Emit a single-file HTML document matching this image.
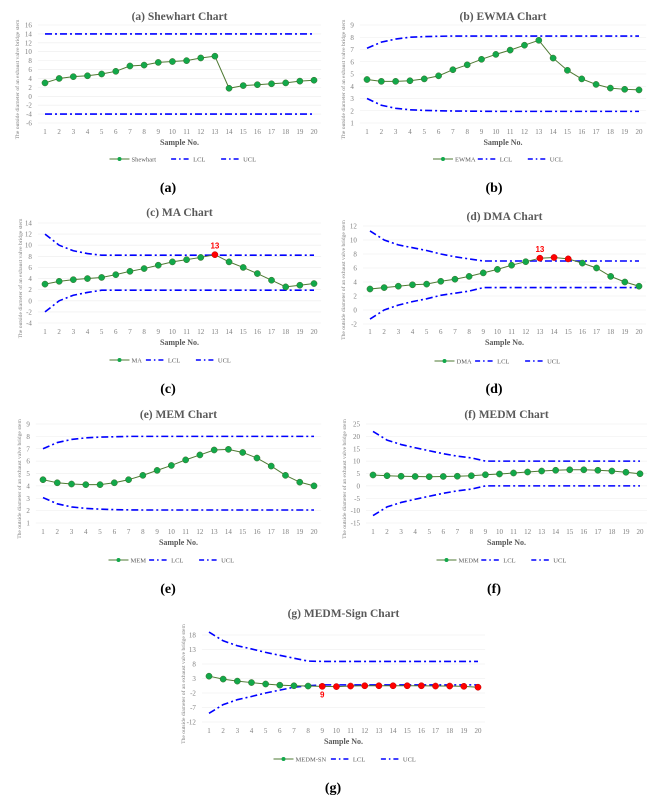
<!DOCTYPE html>
<html><head><meta charset="utf-8">
<style>
body{margin:0;background:#fff;width:669px;height:799px;overflow:hidden;font-family:"Liberation Serif",serif}
svg{position:absolute;left:0;top:0}
</style></head><body>
<svg id="fig" width="669" height="799" viewBox="0 0 669 799" xmlns="http://www.w3.org/2000/svg"></svg>
<script>
const categories=[1,2,3,4,5,6,7,8,9,10,11,12,13,14,15,16,17,18,19,20];
const shewhartVals=[3,4,4.4,4.6,5,5.6,6.8,7,7.6,7.8,8,8.6,9,1.8,2.4,2.6,2.8,3,3.4,3.6];
const shewhartLCL=[-4,-4,-4,-4,-4,-4,-4,-4,-4,-4,-4,-4,-4,-4,-4,-4,-4,-4,-4,-4];
const shewhartUCL=[14,14,14,14,14,14,14,14,14,14,14,14,14,14,14,14,14,14,14,14];
const shewhartTicks=[16,14,12,10,8,6,4,2,0,-2,-4,-6];
const ewmaVals=[4.55,4.4,4.4,4.45,4.6,4.85,5.35,5.75,6.2,6.6,6.95,7.35,7.75,6.3,5.3,4.6,4.15,3.85,3.75,3.7];
const ewmaUCL=[7.1,7.6,7.85,8,8.05,8.08,8.1,8.1,8.1,8.1,8.1,8.1,8.1,8.1,8.1,8.1,8.1,8.1,8.1,8.1];
const ewmaLCL=[3,2.45,2.2,2.08,2.03,2,1.98,1.97,1.96,1.95,1.95,1.95,1.95,1.95,1.95,1.95,1.95,1.95,1.95,1.95];
const ewmaTicks=[9,8,7,6,5,4,3,2,1];
const maVals=[3,3.5,3.8,4,4.2,4.7,5.3,5.8,6.4,7,7.4,7.8,8.3,7,6,4.9,3.7,2.5,2.8,3.1];
const maUCL=[12,10,9,8.5,8.2,8.2,8.2,8.2,8.2,8.2,8.2,8.2,8.2,8.2,8.2,8.2,8.2,8.2,8.2,8.2];
const maLCL=[-2,0,1,1.5,1.9,1.9,1.9,1.9,1.9,1.9,1.9,1.9,1.9,1.9,1.9,1.9,1.9,1.9,1.9,1.9];
const maTicks=[14,12,10,8,6,4,2,0,-2,-4];
const dmaVals=[3,3.2,3.4,3.6,3.7,4.1,4.4,4.8,5.3,5.8,6.4,6.9,7.4,7.5,7.3,6.7,6,4.8,4,3.4];
const dmaUCL=[11.3,10,9.3,8.9,8.5,8,7.6,7.3,7,7,7,7,7,7,7,7,7,7,7,7];
const dmaLCL=[-1.3,0,0.7,1.2,1.6,2.1,2.4,2.7,3.2,3.2,3.2,3.2,3.2,3.2,3.2,3.2,3.2,3.2,3.2,3.2];
const dmaTicks=[12,10,8,6,4,2,0,-2];
const memVals=[4.5,4.25,4.15,4.1,4.1,4.25,4.5,4.85,5.25,5.65,6.1,6.5,6.9,6.95,6.7,6.25,5.6,4.85,4.3,4.0];
const memUCL=[7,7.5,7.75,7.88,7.94,7.97,8,8,8,8,8,8,8,8,8,8,8,8,8,8];
const memLCL=[3.05,2.55,2.3,2.18,2.12,2.08,2.06,2.05,2.05,2.05,2.05,2.05,2.05,2.05,2.05,2.05,2.05,2.05,2.05,2.05];
const memTicks=[9,8,7,6,5,4,3,2,1];
const medmVals=[4.4,4.1,3.9,3.8,3.7,3.8,3.9,4.1,4.5,4.8,5.2,5.6,6,6.3,6.5,6.5,6.3,6,5.5,4.9];
const medmUCL=[22,18.5,16.7,15.4,14.2,13,12,11.3,10,10,10,10,10,10,10,10,10,10,10,10];
const medmLCL=[-12,-8.5,-6.7,-5.4,-4.2,-3,-2,-1.3,0,0,0,0,0,0,0,0,0,0,0,0];
const medmTicks=[25,20,15,10,5,0,-5,-10,-15];
const snVals=[3.8,2.8,2.1,1.6,1.1,0.7,0.5,0.4,0.3,0.2,0.4,0.5,0.5,0.5,0.5,0.5,0.4,0.4,0.3,0];
const snUCL=[19,16,14.3,13.2,12,11,10,9,8.9,8.9,8.9,8.9,8.9,8.9,8.9,8.9,8.9,8.9,8.9,8.9];
const snLCL=[-9,-6,-4.3,-3.2,-2,-1,0,0.5,0.8,0.8,0.8,0.8,0.8,0.8,0.8,0.8,0.8,0.8,0.8,0.8];
const snTicks=[18,13,8,3,-2,-7,-12];

const NS="http://www.w3.org/2000/svg";
const svg=document.getElementById('fig');
function mk(tag,attrs,parent,text){const e=document.createElementNS(NS,tag);for(const k in attrs)e.setAttribute(k,attrs[k]);if(text!==undefined)e.textContent=text;(parent||svg).appendChild(e);return e;}

function panel(p){
  const g=mk('g',{});
  
  
  const tmax=p.ticks[0],tmin=p.ticks[p.ticks.length-1];
  const y=v=>p.yTop+(tmax-v)/(tmax-tmin)*(p.yBot-p.yTop);
  const x=i=>p.x1+i*(p.x20-p.x1)/19;
  const plotL=p.x1-(p.x20-p.x1)/38, plotR=p.x20+(p.x20-p.x1)/38;
  p.ticks.forEach(t=>{
    const l=mk('line',{x1:plotL,x2:plotR,y1:y(t),y2:y(t),stroke:'#ececec','stroke-width':0.6},g);
    
    
    const tx=mk('text',{x:plotL-6,y:y(t)+2.5,'font-size':7,fill:'#7f7f7f','text-anchor':'end'},g,String(t));
    
    
  });
  categories.forEach((c,i)=>{
    const tx=mk('text',{x:x(i),y:p.xLab,'font-size':7,fill:'#7f7f7f','text-anchor':'middle'},g,String(c));
    
    
  });
  const ptitle=mk('text',{x:(plotL+plotR)/2,y:p.titleY,'font-size':11.5,'font-weight':'bold',fill:'#595959','text-anchor':'middle'},g,p.title);
  
  
  const xt=mk('text',{x:(plotL+plotR)/2,y:p.xLab+11,'font-size':8,'font-weight':'bold',fill:'#595959','text-anchor':'middle'},g,'Sample No.');
  
  
  const cy=(p.yTop+p.xLab)/2, cx=p.ytX;
  const yt=mk('text',{x:cx,y:cy,'font-size':5.6,fill:'#7f7f7f','text-anchor':'middle',transform:`rotate(-90 ${cx} ${cy})`},g,'The outside diameter of an exhaust valve bridge stem');
  
  
  const dash='7,3,2,3';
  [[p.lcl,'lcl-line'],[p.ucl,'ucl-line']].forEach(([arr,nm])=>{
    const pl=mk('polyline',{points:arr.map((v,i)=>x(i)+','+y(v)).join(' '),fill:'none',stroke:'#0000ff','stroke-width':1.6,'stroke-dasharray':dash},g);
    
    
  });
  const sl=mk('polyline',{points:p.vals.map((v,i)=>x(i)+','+y(v)).join(' '),fill:'none',stroke:'#4e7a33','stroke-width':1},g);
  
  
  p.vals.forEach((v,i)=>{
    const red=p.red&&p.red.includes(i+1);
    const c=mk('circle',{cx:x(i),cy:y(v),r:3.1,fill:red?'#ff0000':'#12a84a',stroke:red?'#c00000':'#3c6e2a','stroke-width':0.5},g);
    
    
  });
  if(p.label){
    const i=p.label-1;
    const lt=mk('text',{x:x(i),y:y(p.vals[i])+(p.labelBelow?11:-6),'font-size':8,'font-weight':'bold',fill:'#ff0000','text-anchor':'middle','font-family':'Liberation Sans, sans-serif'},g,String(p.label));
    
    
  }
  // legend
  const lx=(plotL+plotR)/2-70, ly=p.legY;
  const lg=mk('g',{},g);
  
  
  mk('line',{x1:lx,x2:lx+20,y1:ly,y2:ly,stroke:'#4e7a33','stroke-width':1},lg);
  mk('circle',{cx:lx+10,cy:ly,r:2,fill:'#12a84a'},lg);
  mk('text',{x:lx+22,y:ly+2.3,'font-size':6.5,fill:'#595959'},lg,p.name);
  const l2=lx+22+p.name.length*4.2+6;
  mk('line',{x1:l2,x2:l2+20,y1:ly,y2:ly,stroke:'#0000ff','stroke-width':1.4,'stroke-dasharray':'5,3,1.5,3'},lg);
  mk('text',{x:l2+22,y:ly+2.3,'font-size':6.5,fill:'#595959'},lg,'LCL');
  const l3=l2+50;
  mk('line',{x1:l3,x2:l3+20,y1:ly,y2:ly,stroke:'#0000ff','stroke-width':1.4,'stroke-dasharray':'5,3,1.5,3'},lg);
  mk('text',{x:l3+22,y:ly+2.3,'font-size':6.5,fill:'#595959'},lg,'UCL');
  const cap=mk('text',{x:p.capX,y:p.capY,'font-size':14,'font-weight':'bold',fill:'#000','text-anchor':'middle'},g,'('+p.id+')');
  
  
}

panel({id:'a',title:'(a) Shewhart Chart',name:'Shewhart',vals:shewhartVals,lcl:shewhartLCL,ucl:shewhartUCL,ticks:shewhartTicks,
  x1:45,x20:314,yTop:25,yBot:123,titleY:20,xLab:134,legY:159,ytX:19,capX:168,capY:192});
panel({id:'b',title:'(b) EWMA Chart',name:'EWMA',vals:ewmaVals,lcl:ewmaLCL,ucl:ewmaUCL,ticks:ewmaTicks,
  x1:367,x20:639,yTop:25,yBot:123,titleY:20,xLab:134,legY:159,ytX:345,capX:494,capY:192});
panel({id:'c',title:'(c) MA Chart',name:'MA',vals:maVals,lcl:maLCL,ucl:maUCL,ticks:maTicks,
  x1:45,x20:314,yTop:223,yBot:323,titleY:216,xLab:334,legY:360,ytX:22,capX:168,capY:393,red:[13],label:13});
panel({id:'d',title:'(d) DMA Chart',name:'DMA',vals:dmaVals,lcl:dmaLCL,ucl:dmaUCL,ticks:dmaTicks,
  x1:370,x20:639,yTop:226,yBot:324,titleY:220,xLab:334,legY:361,ytX:345,capX:494,capY:393,red:[13,14,15],label:13});
panel({id:'e',title:'(e) MEM Chart',name:'MEM',vals:memVals,lcl:memLCL,ucl:memUCL,ticks:memTicks,
  x1:43,x20:314,yTop:424,yBot:523,titleY:418,xLab:534,legY:560,ytX:21,capX:168,capY:593});
panel({id:'f',title:'(f) MEDM Chart',name:'MEDM',vals:medmVals,lcl:medmLCL,ucl:medmUCL,ticks:medmTicks,
  x1:373,x20:640,yTop:424,yBot:523,titleY:418,xLab:534,legY:560,ytX:346,capX:494,capY:593});
panel({id:'g',title:'(g) MEDM-Sign Chart',name:'MEDM-SN',vals:snVals,lcl:snLCL,ucl:snUCL,ticks:snTicks,
  x1:209,x20:478,yTop:635,yBot:722,titleY:617,xLab:733,legY:759,ytX:185,capX:333,capY:792,red:[9,10,11,12,13,14,15,16,17,18,19,20],label:9,labelBelow:true});
</script>
</body></html>
